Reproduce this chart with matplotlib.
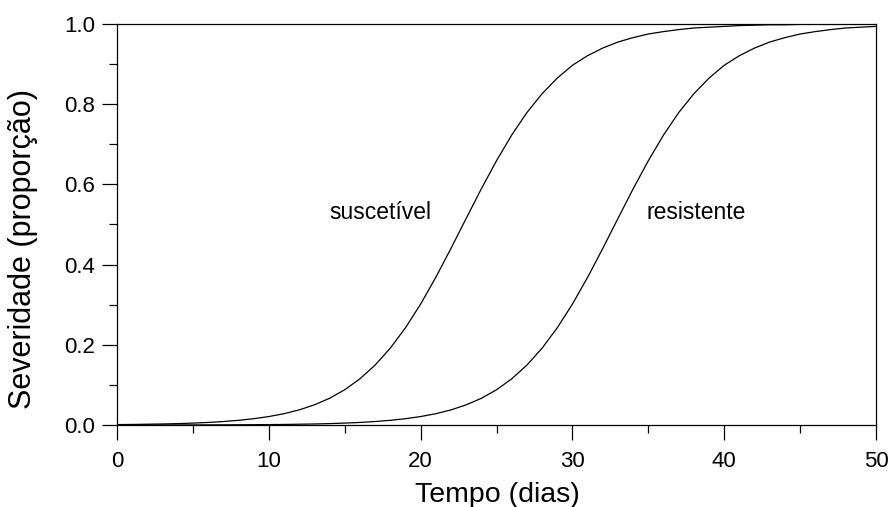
import matplotlib
matplotlib.use("Agg")
import matplotlib.pyplot as plt
from matplotlib.ticker import MultipleLocator

# dias e severidade
dias = list(range(0, 51))

suscetivel = [
    0.0011, 0.0014, 0.0020, 0.0026, 0.0035, 0.0048, 0.0064, 0.0087, 0.0117, 0.0157,
    0.0211, 0.0282, 0.0377, 0.0503, 0.0666, 0.0879, 0.1151, 0.1493, 0.1915, 0.2423,
    0.3015, 0.3682, 0.4403, 0.515, 0.589, 0.659, 0.723, 0.779, 0.826, 0.865,
    0.897, 0.921, 0.940, 0.955, 0.966, 0.975, 0.981, 0.986, 0.990, 0.992,
    0.994, 0.996, 0.997, 0.998, 0.998, 0.999, 0.999, 0.999, 0.999, 0.999,
    0.999,
]

resistente = [
    0.00005, 0.00007, 0.0001, 0.00013, 0.00018, 0.00024, 0.00032, 0.00044, 0.00059, 0.0008,
    0.0011, 0.0014, 0.0020, 0.0026, 0.0035, 0.0048, 0.0064, 0.0087, 0.0117, 0.0157,
    0.0211, 0.0282, 0.0377, 0.0503, 0.0666, 0.0879, 0.1151, 0.1493, 0.1915, 0.2423,
    0.3015, 0.3682, 0.4403, 0.515, 0.589, 0.659, 0.723, 0.779, 0.826, 0.865,
    0.897, 0.921, 0.940, 0.955, 0.966, 0.975, 0.981, 0.986, 0.990, 0.992,
    0.994,
]

plt.rcParams['font.family'] = ['Liberation Sans', 'DejaVu Sans']

fig = plt.figure(figsize=(8.91, 5.07), dpi=100)
ax = fig.add_axes([0.1313, 0.1617, 0.8519, 0.791])

ax.plot(dias, suscetivel, color='black', lw=0.9)
ax.plot(dias, resistente, color='black', lw=0.9)

ax.text(14.0, 0.53, 'suscetível', fontsize=16.5, va='center', ha='left')
ax.text(34.9, 0.53, 'resistente', fontsize=16.5, va='center', ha='left')

ax.set_xlim(0, 50)
ax.set_ylim(0, 1.0)
ax.xaxis.set_major_locator(MultipleLocator(10))
ax.xaxis.set_minor_locator(MultipleLocator(5))
ax.yaxis.set_major_locator(MultipleLocator(0.2))
ax.yaxis.set_minor_locator(MultipleLocator(0.1))
ax.yaxis.set_major_formatter(plt.FormatStrFormatter('%.1f'))

ax.tick_params(which='major', direction='out', length=11, width=0.9, labelsize=16)
ax.tick_params(which='minor', direction='out', length=5.5, width=0.9)
ax.tick_params(axis='x', which='major', pad=8)
ax.tick_params(axis='y', which='major', pad=5)
for s in ax.spines.values():
    s.set_linewidth(0.9)

ax.set_xlabel('Tempo (dias)', fontsize=20.5)
ax.set_ylabel('Severidade (proporção)', fontsize=22)
ax.xaxis.set_label_coords(0.501, -0.142)
ax.yaxis.set_label_coords(-0.104, 0.44)

fig.savefig('out.png', dpi=100)
